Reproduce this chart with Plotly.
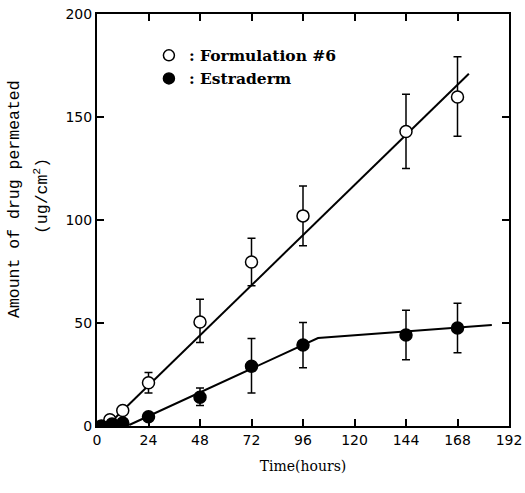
import plotly.graph_objects as go

# Formulation #6 (open circles)
f6_time = [6, 12, 24, 48, 72, 96, 144, 168]
f6_amount = [3, 7.5, 21, 50.5, 79.6, 102, 143, 159.7]
f6_err_plus = [0, 0, 5, 11, 11.5, 14.5, 18, 19.5]
f6_err_minus = [0, 0, 5, 10, 11.5, 14.5, 18, 19]

# Estraderm (filled circles)
es_time = [2, 7, 12, 24, 48, 72, 96, 144, 168]
es_amount = [0, 1, 1.5, 4.5, 14, 29, 39.3, 44.2, 47.6]
es_err_plus = [0, 0, 0, 0, 4.5, 13.5, 11, 12, 12]
es_err_minus = [0, 0, 0, 0, 4, 13, 11, 12, 12]

# fitted lines
f6_fit_x = [8.4, 173.3]
f6_fit_y = [3.9, 171]
es_fit_x = [15, 103, 184]
es_fit_y = [0.5, 42.7, 49]

x_ticks = [0, 24, 48, 72, 96, 120, 144, 168, 192]
y_ticks = [0, 50, 100, 150, 200]

fig = go.Figure()

fig.add_trace(go.Scatter(x=f6_fit_x, y=f6_fit_y, mode="lines",
                         line=dict(color="black", width=2), showlegend=False))
fig.add_trace(go.Scatter(x=es_fit_x, y=es_fit_y, mode="lines",
                         line=dict(color="black", width=2), showlegend=False))

err_style = dict(type="data", symmetric=False, color="black", thickness=1.5, width=4)

fig.add_trace(go.Scatter(
    x=f6_time, y=f6_amount, mode="markers", showlegend=False,
    marker=dict(symbol="circle", size=12, color="white", line=dict(color="black", width=1.5)),
    error_y=dict(array=f6_err_plus, arrayminus=f6_err_minus, **err_style)))
fig.add_trace(go.Scatter(
    x=es_time, y=es_amount, mode="markers", showlegend=False,
    marker=dict(symbol="circle", size=12, color="black", line=dict(color="black", width=1.5)),
    error_y=dict(array=es_err_plus, arrayminus=es_err_minus, **err_style)))

# legend entries (markers only)
fig.add_trace(go.Scatter(
    x=[None], y=[None], mode="markers", name=": Formulation #6",
    marker=dict(symbol="circle", size=11, color="white", line=dict(color="black", width=1.5))))
fig.add_trace(go.Scatter(
    x=[None], y=[None], mode="markers", name=": Estraderm",
    marker=dict(symbol="circle", size=11, color="black", line=dict(color="black", width=1.5))))

axis_common = dict(showline=True, linecolor="black", linewidth=2, mirror="ticks",
                   ticks="inside", ticklen=7, tickwidth=1.5, tickcolor="black",
                   showgrid=False, zeroline=False, automargin=False,
                   tickfont=dict(family="DejaVu Sans", size=14, color="black"))

title_font = dict(family="Liberation Mono", size=16.5, color="black")

fig.update_layout(
    width=525, height=493,
    margin=dict(l=97, r=16, t=14, b=67, autoexpand=False),
    paper_bgcolor="white", plot_bgcolor="white",
    xaxis=dict(range=[0, 192], tickvals=x_ticks, ticktext=[str(v) for v in x_ticks],
               title=dict(text="Time(hours)", font=dict(family="DejaVu Serif", size=14, color="black"),
                          standoff=14),
               **axis_common),
    yaxis=dict(range=[0, 200], tickvals=y_ticks, ticktext=[str(v) for v in y_ticks],
               **axis_common),
    legend=dict(x=0.126, y=0.94, xanchor="left", yanchor="top",
                bgcolor="rgba(0,0,0,0)",
                font=dict(family="DejaVu Serif", size=15.5, color="black", weight=600),
                tracegroupgap=0),
    annotations=[
        dict(text="Amount of drug permeated", xref="paper", yref="paper",
             x=-0.199, y=0.551, xanchor="center", yanchor="middle",
             textangle=-90, showarrow=False, font=title_font),
        dict(text="(ug/cm<sup>2</sup>)", xref="paper", yref="paper",
             x=-0.136, y=0.558, xanchor="center", yanchor="middle",
             textangle=-90, showarrow=False, font=title_font),
    ],
)

fig.write_html("out.html", config={"displayModeBar": False},
               post_script="document.body.style.margin='0';document.body.style.overflow='hidden';")
